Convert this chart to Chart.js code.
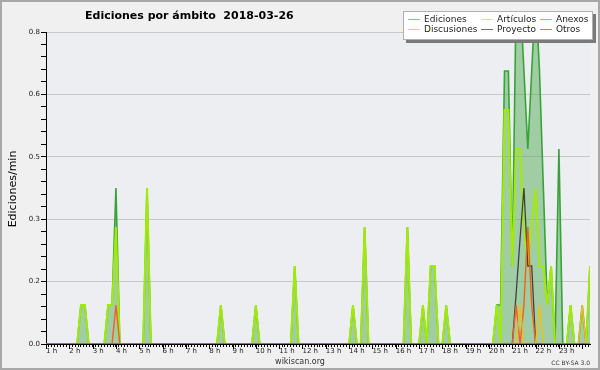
<!DOCTYPE html>
<html><head><meta charset="utf-8">
<script src="https://cdn.jsdelivr.net/npm/chart.js@4.4.1/dist/chart.umd.min.js"></script>
<style>html,body{margin:0;padding:0;background:#f0f0f0}</style>
</head><body>
<canvas id="c" width="600" height="370"></canvas>
<script>
// ---- data (10-minute bins, edits per minute) ----
const START_HOUR = 1;          // first bin time (h)
const BIN_HOURS = 1 / 6;       // 10 minutes
const hourTicks = [1,2,3,4,5,6,7,8,9,10,11,12,13,14,15,16,17,18,19,20,21,22,23];
const yTickLabels = ['0.0','0.2','0.3','0.5','0.6','0.8'];

const ediciones = [
0,0,0,0,0,0,0,0,0,0.1,
0.1,0,0,0,0,0,0.1,0.1,0.4,0,
0,0,0,0,0,0,0.4,0,0,0,
0,0,0,0,0,0,0,0,0,0,
0,0,0,0,0,0.1,0,0,0,0,
0,0,0,0,0.1,0,0,0,0,0,
0,0,0,0,0.2,0,0,0,0,0,
0,0,0,0,0,0,0,0,0,0.1,
0,0,0.3,0,0,0,0,0,0,0,
0,0,0,0.3,0,0,0,0.1,0,0.2,
0.2,0,0,0.1,0,0,0,0,0,0,
0,0,0,0,0,0,0.1,0.1,0.7,0.7,
0.2,0.9,0.9,0.7,0.5,0.7,0.9,0.7,0.4,0.1,
0.2,0,0.5,0,0,0.1,0,0,0.1,0,
0.2];
const articulos = [
0,0,0,0,0,0,0,0,0,0.1,
0.1,0,0,0,0,0,0.1,0.1,0.3,0,
0,0,0,0,0,0,0.4,0,0,0,
0,0,0,0,0,0,0,0,0,0,
0,0,0,0,0,0.1,0,0,0,0,
0,0,0,0,0.1,0,0,0,0,0,
0,0,0,0,0.2,0,0,0,0,0,
0,0,0,0,0,0,0,0,0,0.1,
0,0,0.3,0,0,0,0,0,0,0,
0,0,0,0.3,0,0,0,0.1,0,0.2,
0.2,0,0,0.1,0,0,0,0,0,0,
0,0,0,0,0,0,0.1,0,0.6,0.6,
0.2,0.5,0.5,0.3,0.2,0.3,0.4,0.2,0.2,0.1,
0.2,0,0,0,0,0.1,0,0,0,0,
0.2];
const anexos = [
0,0,0,0,0,0,0,0,0,0,
0,0,0,0,0,0,0,0,0.1,0,
0,0,0,0,0,0,0,0,0,0,
0,0,0,0,0,0,0,0,0,0,
0,0,0,0,0,0,0,0,0,0,
0,0,0,0,0,0,0,0,0,0,
0,0,0,0,0,0,0,0,0,0,
0,0,0,0,0,0,0,0,0,0,
0,0,0,0,0,0,0,0,0,0,
0,0,0,0,0,0,0,0,0,0,
0,0,0,0,0,0,0,0,0,0,
0,0,0,0,0,0,0,0,0,0,
0,0.1,0,0.1,0.3,0.1,0,0,0,0,
0,0,0,0,0,0,0,0,0,0,
0];
const discusiones = [
0,0,0,0,0,0,0,0,0,0,
0,0,0,0,0,0,0,0,0,0,
0,0,0,0,0,0,0,0,0,0,
0,0,0,0,0,0,0,0,0,0,
0,0,0,0,0,0,0,0,0,0,
0,0,0,0,0,0,0,0,0,0,
0,0,0,0,0,0,0,0,0,0,
0,0,0,0,0,0,0,0,0,0,
0,0,0,0,0,0,0,0,0,0,
0,0,0,0,0,0,0,0,0,0,
0,0,0,0,0,0,0,0,0,0,
0,0,0,0,0,0,0,0,0,0,
0,0,0.1,0,0,0,0,0.1,0,0,
0,0,0,0,0,0,0,0,0.1,0,
0];
const proyecto = [
0,0,0,0,0,0,0,0,0,0,
0,0,0,0,0,0,0,0,0,0,
0,0,0,0,0,0,0,0,0,0,
0,0,0,0,0,0,0,0,0,0,
0,0,0,0,0,0,0,0,0,0,
0,0,0,0,0,0,0,0,0,0,
0,0,0,0,0,0,0,0,0,0,
0,0,0,0,0,0,0,0,0,0,
0,0,0,0,0,0,0,0,0,0,
0,0,0,0,0,0,0,0,0,0,
0,0,0,0,0,0,0,0,0,0,
0,0,0,0,0,0,0,0,0,0,
0,0.13,0.27,0.4,0.2,0.2,0,0,0,0,
0,0,0,0,0,0,0,0,0,0,
0];
const otros = new Array(ediciones.length).fill(0);

// ---- styling ----
const FONT = 'DejaVu Sans';
const series = [
  {label:'Ediciones',   data:ediciones,   color:'#38a438', legend:'#86c886', width:1.6, order:6, fill:true},
  {label:'Artículos',   data:articulos,   color:'#a2ea08', legend:'#cdee77', width:2,   order:5},
  {label:'Anexos',      data:anexos,      color:'#f2601c', legend:'#f09a6a', width:1.4, order:3},
  {label:'Discusiones', data:discusiones, color:'#f2c014', legend:'#f0d060', width:1.4, order:2},
  {label:'Proyecto',    data:proyecto,    color:'#404040', legend:'#707070', width:1.3, order:4},
  {label:'Otros',       data:otros,       color:'#8a3ff0', legend:'#a070f0', width:1.3, order:1}
];
const binTime = i => START_HOUR + i * BIN_HOURS;

const datasets = series.map(s => ({
  label: s.label,
  data: s.data.map((v, i) => ({x: binTime(i), y: v})),
  borderColor: s.color,
  backgroundColor: s.fill ? 'rgba(70,165,70,0.45)' : s.color,
  borderWidth: s.width,
  fill: s.fill ? 'origin' : false,
  pointRadius: 0,
  tension: 0,
  order: s.order
}));

const X_MAX = binTime(ediciones.length - 1);

const decor = {
  id: 'decor',
  beforeDraw(chart) {
    const {ctx, chartArea: a} = chart;
    ctx.save();
    ctx.fillStyle = '#f0f0f0';
    ctx.fillRect(0, 0, chart.width, chart.height);
    ctx.fillStyle = '#eceef1';
    ctx.fillRect(a.left, a.top, a.right - a.left, a.bottom - a.top);
    ctx.restore();
  },
  afterDraw(chart) {
    const {ctx, chartArea: a, scales} = chart;
    ctx.save();
    // longer hour ticks on x axis
    ctx.strokeStyle = '#000'; ctx.lineWidth = 1;
    hourTicks.concat([24]).forEach(h => {
      const px = Math.round(scales.x.getPixelForValue(h)) + 0.5;
      if (px > a.right + 1) return;
      ctx.beginPath(); ctx.moveTo(px, a.bottom); ctx.lineTo(px, a.bottom + 5); ctx.stroke();
    });
    // title
    ctx.fillStyle = '#000';
    ctx.font = 'bold 11px ' + FONT;
    ctx.textAlign = 'left'; ctx.textBaseline = 'alphabetic';
    ctx.fillText('Ediciones por ámbito  2018-03-26', 85, 19);
    // y title
    ctx.save();
    ctx.translate(13, 189);
    ctx.rotate(-Math.PI / 2);
    ctx.font = '11px ' + FONT;
    ctx.textAlign = 'center'; ctx.textBaseline = 'middle';
    ctx.fillText('Ediciones/min', 0, 0);
    ctx.restore();
    // footer
    ctx.fillStyle = '#333';
    ctx.font = '8px ' + FONT;
    ctx.textAlign = 'center';
    ctx.fillText('wikiscan.org', 300, 364);
    ctx.font = '6px ' + FONT;
    ctx.textAlign = 'right';
    ctx.fillText('CC BY-SA 3.0', 590, 365);
    // legend box with shadow
    const lx = 403, ly = 11, lw = 190, lh = 29;
    ctx.fillStyle = '#7a7a7a';
    ctx.fillRect(lx + 3, ly + 3, lw, lh);
    ctx.fillStyle = '#ffffff';
    ctx.fillRect(lx, ly, lw, lh);
    ctx.strokeStyle = '#b0b0b0';
    ctx.strokeRect(lx + 0.5, ly + 0.5, lw - 1, lh - 1);
    const cols = [408, 481, 540], rows = [19.5, 29.5];
    const order = [[0, 1, 2], [3, 4, 5]];
    ctx.font = '9px ' + FONT;
    ctx.textAlign = 'left'; ctx.textBaseline = 'middle';
    order.forEach((r, ri) => r.forEach((si, ci) => {
      const s = series[si];
      ctx.strokeStyle = s.legend; ctx.lineWidth = 1;
      ctx.beginPath(); ctx.moveTo(cols[ci], rows[ri]); ctx.lineTo(cols[ci] + 12, rows[ri]); ctx.stroke();
      ctx.fillStyle = '#222';
      ctx.fillText(s.label, cols[ci] + 16, rows[ri]);
    }));
    // outer frame
    ctx.strokeStyle = '#a8a8a8'; ctx.lineWidth = 2;
    ctx.strokeRect(1, 1, 598, 368);
    ctx.restore();
  }
};

Chart.defaults.font.family = FONT;

new Chart(document.getElementById('c'), {
  type: 'line',
  data: { datasets },
  options: {
    responsive: false,
    animation: false,
    devicePixelRatio: 1,
    events: [],
    layout: { padding: { top: 32, right: 10, left: 0, bottom: 0 }, autoPadding: false },
    plugins: { legend: { display: false }, title: { display: false }, tooltip: { enabled: false } },
    scales: {
      x: {
        type: 'linear',
        min: START_HOUR,
        max: X_MAX,
        afterBuildTicks(scale) {
          const t = [];
          for (let k = 8 * START_HOUR; k / 8 <= X_MAX + 1e-9; k++) t.push({value: k / 8});
          scale.ticks = t;
        },
        afterFit(scale) { scale.height = 26; },
        ticks: {
          autoSkip: false, maxRotation: 0, minRotation: 0, align: 'start', padding: 0,
          color: '#222', font: { size: 7, family: FONT },
          callback(v) { return (Number.isInteger(v) && hourTicks.includes(v)) ? v + ' h' : ''; }
        },
        grid: { drawOnChartArea: false, drawTicks: true, tickLength: 3, tickColor: '#000', color: '#000' },
        border: { color: '#000', width: 1 }
      },
      y: {
        type: 'linear',
        min: 0,
        max: 0.8,
        afterBuildTicks(scale) {
          const t = [];
          for (let k = 0; k <= 25; k++) t.push({value: k * 0.032});
          scale.ticks = t;
        },
        afterFit(scale) { scale.width = 46; },
        ticks: {
          autoSkip: false, padding: 1, color: '#222', font: { size: 7, family: FONT },
          callback(v, i) { return i % 5 === 0 ? yTickLabels[i / 5] : ''; }
        },
        grid: {
          tickLength: 5, tickColor: '#000',
          color: ctx => (ctx.index % 5 === 0 && ctx.index > 0) ? '#c8c8c8' : 'rgba(0,0,0,0)'
        },
        border: { color: '#000', width: 1 }
      }
    }
  },
  plugins: [decor]
});
</script>
</body></html>
